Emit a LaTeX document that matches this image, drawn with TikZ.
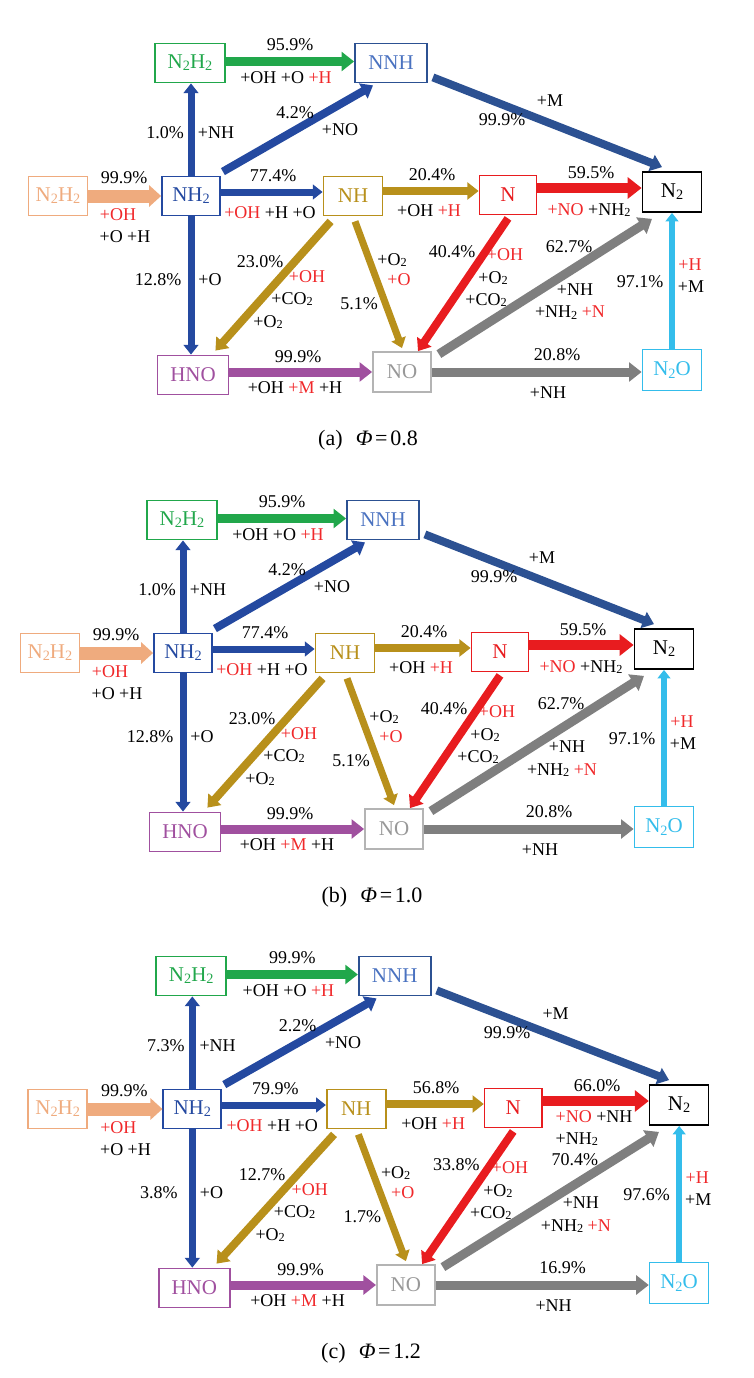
\documentclass[tikz,border=0pt]{standalone}
\usepackage{fontspec}
\setmainfont{Liberation Serif}
\usetikzlibrary{arrows.meta}
\definecolor{salmon}{HTML}{EFAB7E}
\definecolor{nhblue}{HTML}{2449A0}
\definecolor{nnhblue}{HTML}{2C5192}
\definecolor{nnhtext}{HTML}{4A72C0}
\definecolor{pgreen}{HTML}{21A74B}
\definecolor{gold}{HTML}{B8901B}
\definecolor{pred}{HTML}{E81C1F}
\definecolor{lred}{HTML}{F0282A}
\definecolor{pgray}{HTML}{7F7F7F}
\definecolor{nogray}{HTML}{B4B4B4}
\definecolor{ppurple}{HTML}{A0509F}
\definecolor{pcyan}{HTML}{34BDEB}
\newcommand{\ix}[1]{\raisebox{-0.1em}{\scalebox{0.68}{#1}}}
\newcommand{\rd}[1]{\textcolor{lred}{#1}}

\begin{document}
\begin{tikzpicture}[x=1pt, y=-1pt,
	species/.style={draw, line width=1.8pt, minimum height=39pt, inner sep=1pt, font=\fontsize{21}{24}\selectfont},
	lbl/.style={inner sep=0pt, font=\fontsize{18}{20}\selectfont},
	subcap/.style={inner sep=0pt, font=\fontsize{22}{24}\selectfont},
	flow/.style={line width=#1, -{Triangle[length=0pt 1.4, width=0pt 2.1]}},
	flow/.default=8pt]
\useasboundingbox (0,0) rectangle (754,1378);

% (a) phi = 0.8
\begin{scope}
\node[species, draw=salmon, text=salmon, minimum width=59pt] (n2h2b) at (58,196) {N\ix{2}H\ix{2}};
\node[species, draw=nhblue, text=nhblue, minimum width=58pt] (nh2) at (191,196) {NH\ix{2}};
\node[species, draw=pgreen, text=pgreen, minimum width=70pt] (n2h2) at (190,63) {N\ix{2}H\ix{2}};
\node[species, draw=nnhblue, text=nnhtext, minimum width=72pt] (nnh) at (391,63) {NNH};
\node[species, draw=gold, text=gold, minimum width=59pt] (nh) at (353,196) {NH};
\node[species, draw=pred, text=pred, minimum width=57pt] (n) at (508,195) {N};
\node[species, draw=black, minimum width=59pt, minimum height=40pt] (n2) at (672,192) {N\ix{2}};
\node[species, draw=ppurple, text=ppurple, minimum width=71pt] (hno) at (193,375) {HNO};
\node[species, draw=nogray, text=pgray!80, minimum width=58pt, minimum height=40pt] (no) at (402,372) {NO};
\node[species, draw=pcyan, text=pcyan, minimum width=59pt, minimum height=41pt] (n2o) at (672,370) {N\ix{2}O};

\draw[flow=13pt, salmon, -{Triangle[length=12pt, width=21pt]}] (n2h2b) -- (nh2);
\draw[flow=7pt, nhblue] (nh2.north) -- (nh2.north |- n2h2.south);
\draw[flow=9pt, pgreen] ([yshift=1.5pt]n2h2.east) -- ([yshift=1.5pt]n2h2.east -| nnh.west);
\draw[flow=8pt, nhblue] ([xshift=2pt,yshift=4pt]nh2.north east) -- ([xshift=-18pt,yshift=-2pt]nnh.south);
\draw[flow=7pt, nhblue] ([yshift=4pt]nh2.east) -- ([yshift=4pt]nh2.east -| nh.west);
\draw[flow=8pt, gold] ([yshift=5pt]nh.east) -- ([yshift=5pt]nh.east -| n.west);
\draw[flow=10pt, pred] ([yshift=7pt]n.east) -- ([yshift=7pt]n.east -| n2.west);
\draw[flow=8pt, nnhblue] ([xshift=5pt,yshift=6pt]nnh.south east) -- ([xshift=-10pt,yshift=4pt]n2.north);
\draw[flow=7pt, nhblue] (nh2.south) -- (nh2.south |- hno.north);
\draw[flow=8pt, gold] ([xshift=8pt,yshift=-5pt]nh.south west) -- ([xshift=-14pt,yshift=4pt]hno.north east);
\draw[flow=7pt, gold] ([xshift=2pt,yshift=-5pt]nh.south) -- ([yshift=3pt]no.north);
\draw[flow=8pt, pred] ([yshift=-3pt]n.south) -- ([xshift=16pt]no.north);
\draw[flow=9pt, pgray] ([xshift=7pt,yshift=-3pt]no.north east) -- ([xshift=-20pt,yshift=-6pt]n2.south);
\draw[flow=9pt, pgray] (no.east) -- (no.east -| n2o.west);
\draw[flow=6pt, pcyan] (n2o.north) -- (n2o.north |- n2.south);
\draw[flow=9pt, ppurple] (hno.east |- no) -- (no.west);

\node[lbl] (in-p) at (124,178) {99.9\%};
\node[lbl] (in-r1) at (118,215) {\rd{+OH}};
\node[lbl] (in-r2) at (125,237) {+O +H};
\node[lbl] (up-p) at (165,133) {1.0\%};
\node[lbl] (up-r) at (216,133) {+NH};
\node[lbl] (gn-p) at (290,45) {95.9\%};
\node[lbl] (gn-r) at (286,78) {+OH +O \rd{+H}};
\node[lbl] (dg-p) at (295,113) {4.2\%};
\node[lbl] (dg-r) at (340,130) {+NO};
\node[lbl] (h1-p) at (273,176) {77.4\%};
\node[lbl] (h1-r) at (270,213) {\rd{+OH} +H +O};
\node[lbl] (h2-p) at (432,175) {20.4\%};
\node[lbl] (h2-r) at (429,211) {+OH \rd{+H}};
\node[lbl] (h3-p) at (591,173) {59.5\%};
\node[lbl] (h3-r) at (589,210) {\rd{+NO} +NH\ix{2}};
\node[lbl] (mm-r) at (550,101) {+M};
\node[lbl] (mm-p) at (502,120) {99.9\%};
\node[lbl] (dn-p) at (158,280) {12.8\%};
\node[lbl] (dn-r) at (210,280) {+O};
\node[lbl] (lf-p) at (260,262) {23.0\%};
\node[lbl] (lf-r1) at (307,277) {\rd{+OH}};
\node[lbl] (lf-r2) at (292,299) {+CO\ix{2}};
\node[lbl] (lf-r3) at (268,322) {+O\ix{2}};
\node[lbl] (md-p) at (359,304) {5.1\%};
\node[lbl] (md-r1) at (392,260) {+O\ix{2}};
\node[lbl] (md-r2) at (399,280) {\rd{+O}};
\node[lbl] (rd-p) at (452,252) {40.4\%};
\node[lbl] (rd-r1) at (505,255) {\rd{+OH}};
\node[lbl] (rd-r2) at (493,278) {+O\ix{2}};
\node[lbl] (rd-r3) at (486,300) {+CO\ix{2}};
\node[lbl] (gy-p) at (569,247) {62.7\%};
\node[lbl] (gy-r1) at (575,290) {+NH};
\node[lbl] (gy-r2) at (570,313) {+NH\ix{2} \rd{+N}};
\node[lbl] (bt-p) at (557,355) {20.8\%};
\node[lbl] (bt-r) at (548,393) {+NH};
\node[lbl] (cy-p) at (640,282) {97.1\%};
\node[lbl] (cy-r1) at (690,265) {\rd{+H}};
\node[lbl] (cy-r2) at (691,287) {+M};
\node[lbl] (pu-p) at (298,357) {99.9\%};
\node[lbl] (pu-r) at (295,388) {+OH \rd{+M} +H};
\end{scope}
\node[subcap] (cap-a) at (368,440) {(a)\hspace{0.6em}\textit{Φ}\hspace{0.12em}=\hspace{0.12em}0.8};

% (b) phi = 1.0
\begin{scope}[shift={(-8,457)}]
\node[species, draw=salmon, text=salmon, minimum width=59pt] (n2h2b) at (58,196) {N\ix{2}H\ix{2}};
\node[species, draw=nhblue, text=nhblue, minimum width=58pt] (nh2) at (191,196) {NH\ix{2}};
\node[species, draw=pgreen, text=pgreen, minimum width=70pt] (n2h2) at (190,63) {N\ix{2}H\ix{2}};
\node[species, draw=nnhblue, text=nnhtext, minimum width=72pt] (nnh) at (391,63) {NNH};
\node[species, draw=gold, text=gold, minimum width=59pt] (nh) at (353,196) {NH};
\node[species, draw=pred, text=pred, minimum width=57pt] (n) at (508,195) {N};
\node[species, draw=black, minimum width=59pt, minimum height=40pt] (n2) at (672,192) {N\ix{2}};
\node[species, draw=ppurple, text=ppurple, minimum width=71pt] (hno) at (193,375) {HNO};
\node[species, draw=nogray, text=pgray!80, minimum width=58pt, minimum height=40pt] (no) at (402,372) {NO};
\node[species, draw=pcyan, text=pcyan, minimum width=59pt, minimum height=41pt] (n2o) at (672,370) {N\ix{2}O};

\draw[flow=13pt, salmon, -{Triangle[length=12pt, width=21pt]}] (n2h2b) -- (nh2);
\draw[flow=7pt, nhblue] (nh2.north) -- (nh2.north |- n2h2.south);
\draw[flow=9pt, pgreen] ([yshift=1.5pt]n2h2.east) -- ([yshift=1.5pt]n2h2.east -| nnh.west);
\draw[flow=8pt, nhblue] ([xshift=2pt,yshift=4pt]nh2.north east) -- ([xshift=-18pt,yshift=-2pt]nnh.south);
\draw[flow=7pt, nhblue] ([yshift=4pt]nh2.east) -- ([yshift=4pt]nh2.east -| nh.west);
\draw[flow=8pt, gold] ([yshift=5pt]nh.east) -- ([yshift=5pt]nh.east -| n.west);
\draw[flow=10pt, pred] ([yshift=7pt]n.east) -- ([yshift=7pt]n.east -| n2.west);
\draw[flow=8pt, nnhblue] ([xshift=5pt,yshift=6pt]nnh.south east) -- ([xshift=-10pt,yshift=4pt]n2.north);
\draw[flow=7pt, nhblue] (nh2.south) -- (nh2.south |- hno.north);
\draw[flow=8pt, gold] ([xshift=8pt,yshift=-5pt]nh.south west) -- ([xshift=-14pt,yshift=4pt]hno.north east);
\draw[flow=7pt, gold] ([xshift=2pt,yshift=-5pt]nh.south) -- ([yshift=3pt]no.north);
\draw[flow=8pt, pred] ([yshift=-3pt]n.south) -- ([xshift=16pt]no.north);
\draw[flow=9pt, pgray] ([xshift=7pt,yshift=-3pt]no.north east) -- ([xshift=-20pt,yshift=-6pt]n2.south);
\draw[flow=9pt, pgray] (no.east) -- (no.east -| n2o.west);
\draw[flow=6pt, pcyan] (n2o.north) -- (n2o.north |- n2.south);
\draw[flow=9pt, ppurple] (hno.east |- no) -- (no.west);

\node[lbl] (in-p) at (124,178) {99.9\%};
\node[lbl] (in-r1) at (118,215) {\rd{+OH}};
\node[lbl] (in-r2) at (125,237) {+O +H};
\node[lbl] (up-p) at (165,133) {1.0\%};
\node[lbl] (up-r) at (216,133) {+NH};
\node[lbl] (gn-p) at (290,45) {95.9\%};
\node[lbl] (gn-r) at (286,78) {+OH +O \rd{+H}};
\node[lbl] (dg-p) at (295,113) {4.2\%};
\node[lbl] (dg-r) at (340,130) {+NO};
\node[lbl] (h1-p) at (273,176) {77.4\%};
\node[lbl] (h1-r) at (270,213) {\rd{+OH} +H +O};
\node[lbl] (h2-p) at (432,175) {20.4\%};
\node[lbl] (h2-r) at (429,211) {+OH \rd{+H}};
\node[lbl] (h3-p) at (591,173) {59.5\%};
\node[lbl] (h3-r) at (589,210) {\rd{+NO} +NH\ix{2}};
\node[lbl] (mm-r) at (550,101) {+M};
\node[lbl] (mm-p) at (502,120) {99.9\%};
\node[lbl] (dn-p) at (158,280) {12.8\%};
\node[lbl] (dn-r) at (210,280) {+O};
\node[lbl] (lf-p) at (260,262) {23.0\%};
\node[lbl] (lf-r1) at (307,277) {\rd{+OH}};
\node[lbl] (lf-r2) at (292,299) {+CO\ix{2}};
\node[lbl] (lf-r3) at (268,322) {+O\ix{2}};
\node[lbl] (md-p) at (359,304) {5.1\%};
\node[lbl] (md-r1) at (392,260) {+O\ix{2}};
\node[lbl] (md-r2) at (399,280) {\rd{+O}};
\node[lbl] (rd-p) at (452,252) {40.4\%};
\node[lbl] (rd-r1) at (505,255) {\rd{+OH}};
\node[lbl] (rd-r2) at (493,278) {+O\ix{2}};
\node[lbl] (rd-r3) at (486,300) {+CO\ix{2}};
\node[lbl] (gy-p) at (569,247) {62.7\%};
\node[lbl] (gy-r1) at (575,290) {+NH};
\node[lbl] (gy-r2) at (570,313) {+NH\ix{2} \rd{+N}};
\node[lbl] (bt-p) at (557,355) {20.8\%};
\node[lbl] (bt-r) at (548,393) {+NH};
\node[lbl] (cy-p) at (640,282) {97.1\%};
\node[lbl] (cy-r1) at (690,265) {\rd{+H}};
\node[lbl] (cy-r2) at (691,287) {+M};
\node[lbl] (pu-p) at (298,357) {99.9\%};
\node[lbl] (pu-r) at (295,388) {+OH \rd{+M} +H};
\end{scope}
\node[subcap] (cap-b) at (372,897) {(b)\hspace{0.6em}\textit{Φ}\hspace{0.12em}=\hspace{0.12em}1.0};

% (c) phi = 1.2
\begin{scope}[shift={(-1,913)}, xscale=1.012]
\node[species, draw=salmon, text=salmon, minimum width=59pt] (n2h2b) at (58,196) {N\ix{2}H\ix{2}};
\node[species, draw=nhblue, text=nhblue, minimum width=58pt] (nh2) at (191,196) {NH\ix{2}};
\node[species, draw=pgreen, text=pgreen, minimum width=70pt] (n2h2) at (190,63) {N\ix{2}H\ix{2}};
\node[species, draw=nnhblue, text=nnhtext, minimum width=72pt] (nnh) at (391,63) {NNH};
\node[species, draw=gold, text=gold, minimum width=59pt] (nh) at (353,196) {NH};
\node[species, draw=pred, text=pred, minimum width=57pt] (n) at (508,195) {N};
\node[species, draw=black, minimum width=59pt, minimum height=40pt] (n2) at (672,192) {N\ix{2}};
\node[species, draw=ppurple, text=ppurple, minimum width=71pt] (hno) at (193,375) {HNO};
\node[species, draw=nogray, text=pgray!80, minimum width=58pt, minimum height=40pt] (no) at (402,372) {NO};
\node[species, draw=pcyan, text=pcyan, minimum width=59pt, minimum height=41pt] (n2o) at (672,370) {N\ix{2}O};

\draw[flow=13pt, salmon, -{Triangle[length=12pt, width=21pt]}] (n2h2b) -- (nh2);
\draw[flow=7pt, nhblue] (nh2.north) -- (nh2.north |- n2h2.south);
\draw[flow=9pt, pgreen] ([yshift=1.5pt]n2h2.east) -- ([yshift=1.5pt]n2h2.east -| nnh.west);
\draw[flow=8pt, nhblue] ([xshift=2pt,yshift=4pt]nh2.north east) -- ([xshift=-18pt,yshift=-2pt]nnh.south);
\draw[flow=7pt, nhblue] ([yshift=4pt]nh2.east) -- ([yshift=4pt]nh2.east -| nh.west);
\draw[flow=8pt, gold] ([yshift=5pt]nh.east) -- ([yshift=5pt]nh.east -| n.west);
\draw[flow=10pt, pred] ([yshift=7pt]n.east) -- ([yshift=7pt]n.east -| n2.west);
\draw[flow=8pt, nnhblue] ([xshift=5pt,yshift=6pt]nnh.south east) -- ([xshift=-10pt,yshift=4pt]n2.north);
\draw[flow=7pt, nhblue] (nh2.south) -- (nh2.south |- hno.north);
\draw[flow=8pt, gold] ([xshift=8pt,yshift=-5pt]nh.south west) -- ([xshift=-14pt,yshift=4pt]hno.north east);
\draw[flow=7pt, gold] ([xshift=2pt,yshift=-5pt]nh.south) -- ([yshift=3pt]no.north);
\draw[flow=8pt, pred] ([yshift=-3pt]n.south) -- ([xshift=16pt]no.north);
\draw[flow=9pt, pgray] ([xshift=7pt,yshift=-3pt]no.north east) -- ([xshift=-20pt,yshift=-6pt]n2.south);
\draw[flow=9pt, pgray] (no.east) -- (no.east -| n2o.west);
\draw[flow=6pt, pcyan] (n2o.north) -- (n2o.north |- n2.south);
\draw[flow=9pt, ppurple] (hno.east |- no) -- (no.west);

\node[lbl] (in-p) at (124,178) {99.9\%};
\node[lbl] (in-r1) at (118,215) {\rd{+OH}};
\node[lbl] (in-r2) at (125,237) {+O +H};
\node[lbl] (up-p) at (165,133) {7.3\%};
\node[lbl] (up-r) at (216,133) {+NH};
\node[lbl] (gn-p) at (290,45) {99.9\%};
\node[lbl] (gn-r) at (286,78) {+OH +O \rd{+H}};
\node[lbl] (dg-p) at (295,113) {2.2\%};
\node[lbl] (dg-r) at (340,130) {+NO};
\node[lbl] (h1-p) at (273,176) {79.9\%};
\node[lbl] (h1-r) at (270,213) {\rd{+OH} +H +O};
\node[lbl] (h2-p) at (432,175) {56.8\%};
\node[lbl] (h2-r) at (429,211) {+OH \rd{+H}};
\node[lbl] (h3-p) at (591,173) {66.0\%};
\node[lbl] (h3-r1) at (588,204) {\rd{+NO} +NH};
\node[lbl] (h3-r2) at (571,226) {+NH\ix{2}};
\node[lbl] (mm-r) at (550,101) {+M};
\node[lbl] (mm-p) at (502,120) {99.9\%};
\node[lbl] (dn-p) at (158,280) {3.8\%};
\node[lbl] (dn-r) at (210,280) {+O};
\node[lbl] (lf-p) at (260,262) {12.7\%};
\node[lbl] (lf-r1) at (307,277) {\rd{+OH}};
\node[lbl] (lf-r2) at (292,299) {+CO\ix{2}};
\node[lbl] (lf-r3) at (268,322) {+O\ix{2}};
\node[lbl] (md-p) at (359,304) {1.7\%};
\node[lbl] (md-r1) at (392,260) {+O\ix{2}};
\node[lbl] (md-r2) at (399,280) {\rd{+O}};
\node[lbl] (rd-p) at (452,252) {33.8\%};
\node[lbl] (rd-r1) at (505,255) {\rd{+OH}};
\node[lbl] (rd-r2) at (493,278) {+O\ix{2}};
\node[lbl] (rd-r3) at (486,300) {+CO\ix{2}};
\node[lbl] (gy-p) at (569,247) {70.4\%};
\node[lbl] (gy-r1) at (575,290) {+NH};
\node[lbl] (gy-r2) at (570,313) {+NH\ix{2} \rd{+N}};
\node[lbl] (bt-p) at (557,355) {16.9\%};
\node[lbl] (bt-r) at (548,393) {+NH};
\node[lbl] (cy-p) at (640,282) {97.6\%};
\node[lbl] (cy-r1) at (690,265) {\rd{+H}};
\node[lbl] (cy-r2) at (691,287) {+M};
\node[lbl] (pu-p) at (298,357) {99.9\%};
\node[lbl] (pu-r) at (295,388) {+OH \rd{+M} +H};
\end{scope}
\node[subcap] (cap-c) at (371,1353) {(c)\hspace{0.6em}\textit{Φ}\hspace{0.12em}=\hspace{0.12em}1.2};
\end{tikzpicture}
\end{document}
